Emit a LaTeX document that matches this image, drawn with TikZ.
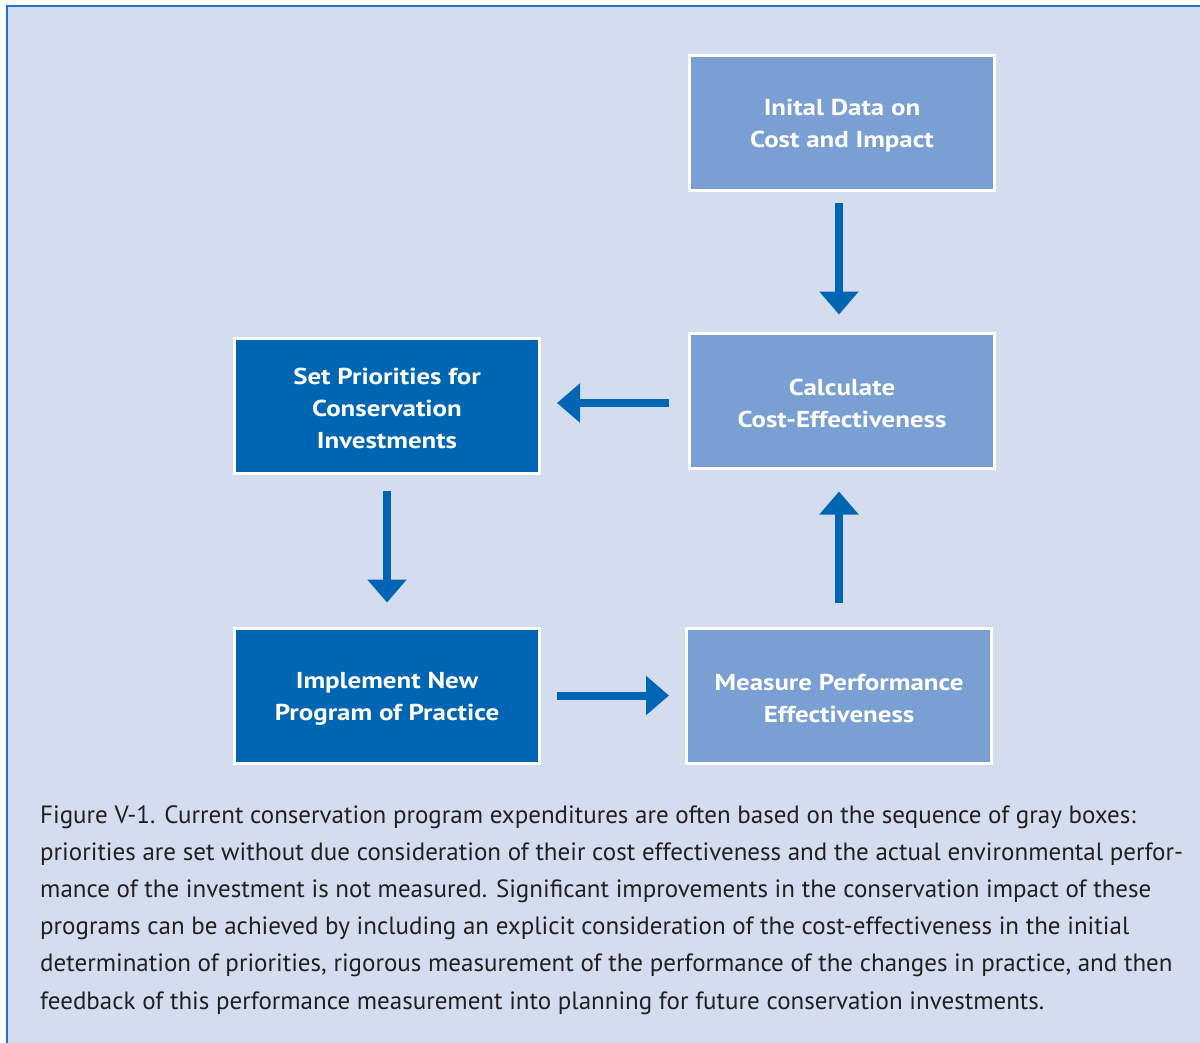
\documentclass[tikz,border=0pt]{standalone}
\usepackage{fontspec}
\setmainfont{PT Sans}
\newfontfamily\boxfont[FakeStretch=1.17]{PT Sans}
\usetikzlibrary{arrows.meta}
\definecolor{panel}{HTML}{D4DDF0}
\definecolor{frame}{HTML}{1A75C4}
\definecolor{dark}{HTML}{0066B3}
\definecolor{light}{HTML}{7A9FD3}
\definecolor{captxt}{HTML}{231F20}
\tikzset{
  box/.style={draw=white, line width=3pt, minimum width=305pt, minimum height=135pt,
    inner sep=0pt, align=center, text=white, font=\boxfont\fontsize{23}{32}\selectfont\bfseries},
  darkbox/.style={box, fill=dark},
  lightbox/.style={box, fill=light},
  arr/.style={draw=dark, line width=8pt, -{Triangle[width=38pt,length=23pt]}},
}
\begin{document}
\begin{tikzpicture}[x=1pt,y=-1pt]
\useasboundingbox (0,0) rectangle (1200,1042);
\fill[white] (0,0) rectangle (1200,1042);
\fill[panel] (6,5.5) rectangle (1202,1044);
\draw[frame, line width=2pt] (6.5,1044) -- (6.5,5.5) -- (1202,5.5);

\node[lightbox] (init) at (842,123) {\strut Inital Data on\\Cost and Impact};
\node[lightbox] (calc) at (842,400.5) {\strut Calculate\\Cost-Effectiveness};
\node[darkbox] (set) at (387,405.5) {\strut Set Priorities for\\Conservation\\Investments};
\node[darkbox] (impl) at (387,695.5) {\strut Implement New\\Program of Practice};
\node[lightbox] (meas) at (839,695.5) {\strut Measure Performance\\Effectiveness};

\draw[arr, shorten <=11pt, shorten >=17pt] ([xshift=-3pt]init.south) -- ([xshift=-3pt]calc.north);
\draw[arr, shorten <=19pt, shorten >=16pt] ([yshift=-2.5pt]calc.west) -- ([yshift=2.5pt]set.east);
\draw[arr, shorten <=16pt, shorten >=24pt] (set.south) -- (impl.north);
\draw[arr, shorten <=16pt, shorten >=16pt] (impl.east) -- (meas.west);
\draw[arr, shorten <=24pt, shorten >=22pt] (meas.north) -- (meas.north |- calc.south);

\node[anchor=north west, inner sep=0pt, align=left, text=captxt,
  font=\fontsize{25}{37.2}\selectfont] (cap) at (40,805)
  {Figure V-1. Current conservation program expenditures are often based on the sequence of gray boxes:\\
   priorities are set without due consideration of their cost effectiveness and the actual environmental perfor-\\
   mance of the investment is not measured. Significant improvements in the conservation impact of these\\
   programs can be achieved by including an explicit consideration of the cost-effectiveness in the initial\\
   determination of priorities, rigorous measurement of the performance of the changes in practice, and then\\
   feedback of this performance measurement into planning for future conservation investments.};
\end{tikzpicture}
\end{document}
